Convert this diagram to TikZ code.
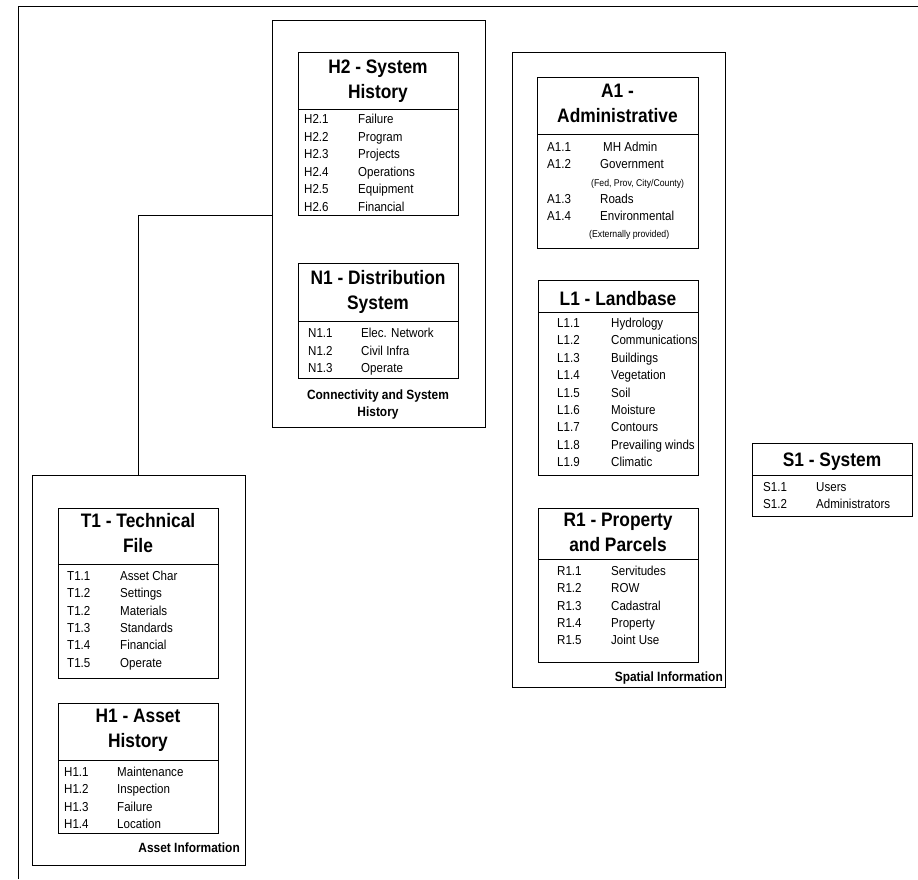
\documentclass[tikz,border=0pt]{standalone}
\usepackage{fontspec}
\setmainfont{Liberation Sans}[FakeStretch=0.89]
\begin{document}
\begin{tikzpicture}[x=1pt,y=-1pt,
  outerline/.style={line width=1pt, black},
  group/.style={draw, line width=0.8pt, rectangle, inner sep=0pt, outer sep=0pt, anchor=north west},
  entity/.style={draw, line width=0.8pt, rectangle, inner sep=0pt, outer sep=0pt, anchor=north west},
  rule/.style={line width=0.8pt},
  link/.style={line width=0.8pt},
  head/.style={font=\fontsize{19.5}{24.8}\selectfont\bfseries, align=center, inner sep=0pt, anchor=north},
  item/.style={font=\fontsize{13}{14}\selectfont, inner sep=0pt, anchor=base west},
  note/.style={font=\fontsize{9.8}{11}\selectfont, inner sep=0pt, anchor=base west},
  caption/.style={font=\fontsize{13.4}{17}\selectfont\bfseries, inner sep=0pt, align=center}
]
\useasboundingbox (0,0) rectangle (918,879);

% page frame
\draw[outerline] (18,879) -- (18,6) -- (918,6);

% ---------------- group frames ----------------
\node[group, minimum width=213pt, minimum height=407pt] (conn) at (272,20) {};
\node[group, minimum width=213pt, minimum height=635pt] (spatial) at (512,52) {};
\node[group, minimum width=213pt, minimum height=390pt] (asset) at (32,475) {};

% ---------------- entity boxes ----------------
\node[entity, minimum width=160pt, minimum height=163pt] (h2) at (298,52) {};
\node[entity, minimum width=160pt, minimum height=115pt] (n1) at (298,263) {};
\node[entity, minimum width=161pt, minimum height=171pt] (a1) at (537,77) {};
\node[entity, minimum width=160pt, minimum height=195pt] (l1) at (538,280) {};
\node[entity, minimum width=160pt, minimum height=154pt] (r1) at (538,508) {};
\node[entity, minimum width=160pt, minimum height=73pt] (s1) at (752,443) {};
\node[entity, minimum width=160pt, minimum height=170pt] (t1) at (58,508) {};
\node[entity, minimum width=160pt, minimum height=130pt] (h1) at (58,703) {};

% header separators
\draw[rule] ([yshift=-57pt]h2.north west) -- ([yshift=-57pt]h2.north east);
\draw[rule] ([yshift=-58pt]n1.north west) -- ([yshift=-58pt]n1.north east);
\draw[rule] ([yshift=-57pt]a1.north west) -- ([yshift=-57pt]a1.north east);
\draw[rule] ([yshift=-32pt]l1.north west) -- ([yshift=-32pt]l1.north east);
\draw[rule] ([yshift=-51pt]r1.north west) -- ([yshift=-51pt]r1.north east);
\draw[rule] ([yshift=-32pt]s1.north west) -- ([yshift=-32pt]s1.north east);
\draw[rule] ([yshift=-56pt]t1.north west) -- ([yshift=-56pt]t1.north east);
\draw[rule] ([yshift=-57pt]h1.north west) -- ([yshift=-57pt]h1.north east);

% connector between asset and connectivity groups
\draw[link] (asset.north) |- (conn.west |- h2.south);

% ---------------- headings ----------------
\node[head] (h2-t) at (378,60) {H2 - System\\History};
\node[head] (n1-t) at (378,270) {N1 - Distribution\\System};
\node[head] (a1-t) at (617.5,84) {A1 -\\Administrative};
\node[head] (l1-t) at (618,291) {L1 - Landbase};
\node[head] (r1-t) at (618,513) {R1 - Property\\and Parcels};
\node[head] (s1-t) at (832,453) {S1 - System};
\node[head] (t1-t) at (138,513) {T1 - Technical\\File};
\node[head] (h1-t) at (138,709) {H1 - Asset\\History};

% ---------------- entries ----------------
\foreach \c/\n [count=\i from 0] in {H2.1/Failure, H2.2/Program, H2.3/Projects, H2.4/Operations, H2.5/Equipment, H2.6/Financial}
  { \node[item] (h2-c\i) at (304,{123.5+17.5*\i}) {\c};
    \node[item] (h2-n\i) at (358,{123.5+17.5*\i}) {\n}; }

\foreach \c/\n [count=\i from 0] in {N1.1/Elec. Network, N1.2/Civil Infra, N1.3/Operate}
  { \node[item] (n1-c\i) at (308,{337.5+17.5*\i}) {\c};
    \node[item] (n1-n\i) at (361,{337.5+17.5*\i}) {\n}; }

\node[item] (a1-c1) at (547,151.5) {A1.1};
\node[item] (a1-n1) at (603,151.5) {MH Admin};
\node[item] (a1-c2) at (547,168.5) {A1.2};
\node[item] (a1-n2) at (600,168.5) {Government};
\node[note] (a1-m2) at (591,186.5) {(Fed, Prov, City/County)};
\node[item] (a1-c3) at (547,203.5) {A1.3};
\node[item] (a1-n3) at (600,203.5) {Roads};
\node[item] (a1-c4) at (547,220.5) {A1.4};
\node[item] (a1-n4) at (600,220.5) {Environmental};
\node[note] (a1-m4) at (589,237.5) {(Externally provided)};

\foreach \c/\n [count=\i from 0] in {L1.1/Hydrology, L1.2/Communications, L1.3/Buildings, L1.4/Vegetation, L1.5/Soil, L1.6/Moisture, L1.7/Contours, L1.8/Prevailing winds, L1.9/Climatic}
  { \node[item] (l1-c\i) at (557,{327.5+17.4*\i}) {\c};
    \node[item] (l1-n\i) at (611,{327.5+17.4*\i}) {\n}; }

\foreach \c/\n [count=\i from 0] in {R1.1/Servitudes, R1.2/ROW, R1.3/Cadastral, R1.4/Property, R1.5/Joint Use}
  { \node[item] (r1-c\i) at (557,{575.5+17.3*\i}) {\c};
    \node[item] (r1-n\i) at (611,{575.5+17.3*\i}) {\n}; }

\foreach \c/\n [count=\i from 0] in {S1.1/Users, S1.2/Administrators}
  { \node[item] (s1-c\i) at (763,{491.5+17*\i}) {\c};
    \node[item] (s1-n\i) at (816,{491.5+17*\i}) {\n}; }

\foreach \c/\n [count=\i from 0] in {T1.1/Asset Char, T1.2/Settings, T1.2/Materials, T1.3/Standards, T1.4/Financial, T1.5/Operate}
  { \node[item] (t1-c\i) at (67,{580.5+17.3*\i}) {\c};
    \node[item] (t1-n\i) at (120,{580.5+17.3*\i}) {\n}; }

\foreach \c/\n [count=\i from 0] in {H1.1/Maintenance, H1.2/Inspection, H1.3/Failure, H1.4/Location}
  { \node[item] (h1-c\i) at (64,{776.5+17.3*\i}) {\c};
    \node[item] (h1-n\i) at (117,{776.5+17.3*\i}) {\n}; }

% ---------------- group captions ----------------
\node[caption, anchor=north] (conn-cap) at (378,390) {Connectivity and System\\History};
\node[caption, anchor=base east] (spatial-cap) at (723,681.5) {Spatial Information};
\node[caption, anchor=base east] (asset-cap) at (240,852.5) {Asset Information};
\end{tikzpicture}
\end{document}
